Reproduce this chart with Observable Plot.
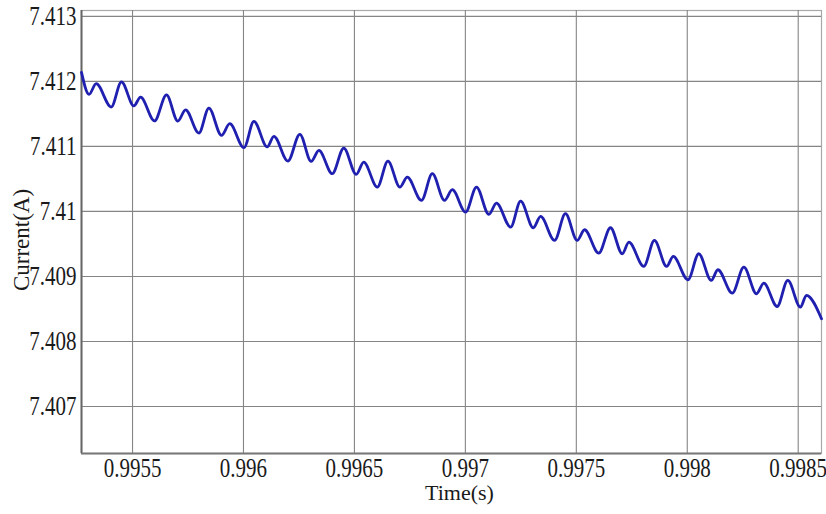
<!DOCTYPE html>
<html>
<head>
<meta charset="utf-8">
<script src="https://cdn.jsdelivr.net/npm/d3@7"></script>
<script src="https://cdn.jsdelivr.net/npm/@observablehq/plot@0.6"></script>
<style>
  html, body { margin: 0; padding: 0; background: #ffffff; }
</style>
</head>
<body>
<div id="chart"></div>
<script>
// Key points of the current waveform (time in s, current in A)
const time = [
  0.995270, 0.995304, 0.995336, 0.995404, 0.995450, 0.995506, 0.995536, 0.995599,
  0.995653, 0.995704, 0.995739, 0.995799, 0.995844, 0.995901, 0.995938, 0.996002,
  0.996047, 0.996107, 0.996137, 0.996200, 0.996254, 0.996305, 0.996340, 0.996400,
  0.996452, 0.996508, 0.996542, 0.996603, 0.996651, 0.996705, 0.996738, 0.996802,
  0.996851, 0.996906, 0.996941, 0.997001, 0.997050, 0.997106, 0.997140, 0.997204,
  0.997249, 0.997306, 0.997339, 0.997402, 0.997451, 0.997504, 0.997537, 0.997601,
  0.997654, 0.997707, 0.997737, 0.997804, 0.997852, 0.997907, 0.997937, 0.998003,
  0.998052, 0.998108, 0.998138, 0.998203, 0.998255, 0.998312, 0.998345, 0.998405,
  0.998453, 0.998510, 0.998537, 0.998605
];
const current = [
  7.412138, 7.411800, 7.411965, 7.411605, 7.411992, 7.411623, 7.411758, 7.411392,
  7.411792, 7.411389, 7.411562, 7.411205, 7.411589, 7.411169, 7.411349, 7.410980,
  7.411385, 7.410992, 7.411154, 7.410774, 7.411185, 7.410769, 7.410938, 7.410580,
  7.410974, 7.410569, 7.410758, 7.410374, 7.410774, 7.410374, 7.410528, 7.410169,
  7.410580, 7.410169, 7.410334, 7.409989, 7.410374, 7.409954, 7.410128, 7.409758,
  7.410158, 7.409749, 7.409923, 7.409554, 7.409965, 7.409554, 7.409718, 7.409358,
  7.409749, 7.409349, 7.409528, 7.409154, 7.409554, 7.409154, 7.409308, 7.408949,
  7.409349, 7.408938, 7.409103, 7.408743, 7.409143, 7.408734, 7.408897, 7.408538,
  7.408938, 7.408528, 7.408708, 7.408349
];
const xTicks = [0.9955, 0.996, 0.9965, 0.997, 0.9975, 0.998, 0.9985];
const yTicks = [7.407, 7.408, 7.409, 7.41, 7.411, 7.412, 7.413];
const xDomain = [0.99527, 0.998605];
const yDomain = [7.406277, 7.41309];
const xLabel = "Time(s)";
const yLabel = "Current(A)";

const data = time.map((t, i) => ({ t, c: current[i] }));

const chart = Plot.plot({
  width: 826,
  height: 514,
  marginLeft: 81,
  marginRight: 5,
  marginTop: 10,
  marginBottom: 61,
  style: { fontFamily: "'Liberation Serif', 'DejaVu Serif', serif", fontSize: "21px", background: "#ffffff", color: "#1a1a1a" },
  x: { domain: xDomain },
  y: { domain: yDomain },
  marks: [
    Plot.frame({ stroke: "#a8a8a8", strokeWidth: 1.2 }),
    Plot.gridX(xTicks, { stroke: "#858585", strokeOpacity: 1, strokeWidth: 1.1 }),
    Plot.gridY(yTicks, { stroke: "#858585", strokeOpacity: 1, strokeWidth: 1.1 }),
    Plot.ruleX([xDomain[0]], { stroke: "#666666", strokeWidth: 2 }),
    Plot.ruleY([yDomain[0]], { stroke: "#777777", strokeWidth: 2 }),
    Plot.axisX({ ticks: xTicks, tickSize: 0, tickPadding: 4, tickFormat: d => String(d), label: null, fill: "#1a1a1a" }),
    Plot.axisY({ ticks: yTicks, tickSize: 0, tickPadding: 5, tickFormat: d => String(d), label: null, fill: "#1a1a1a" }),
    Plot.line(data, { x: "t", y: "c", stroke: "#1f1fb0", strokeWidth: 2.8, curve: "monotone-x" }),
    Plot.text([xLabel], { frameAnchor: "bottom", textAnchor: "middle", lineAnchor: "middle", dx: 8, dy: 39, fontSize: 22, fill: "#1a1a1a" }),
    Plot.text([yLabel], { frameAnchor: "left", textAnchor: "middle", lineAnchor: "middle", rotate: -90, dx: -60, dy: 8, fontSize: 23, fill: "#1a1a1a" })
  ]
});

document.getElementById("chart").appendChild(chart);

// Mimic the vertically stretched glyphs of the original image (tick labels only)
function stretch(el, sx, sy) {
  let t = el.getAttribute("transform");
  if (!t) {
    const x = el.getAttribute("x") || 0, y = el.getAttribute("y") || 0;
    el.removeAttribute("x"); el.removeAttribute("y");
    t = `translate(${x},${y})`;
  }
  el.setAttribute("transform", `${t} scale(${sx},${sy})`);
}
chart.querySelectorAll('g[aria-label="x-axis tick label"] text, g[aria-label="y-axis tick label"] text').forEach(el => stretch(el, 1, 1.3));
</script>
</body>
</html>
